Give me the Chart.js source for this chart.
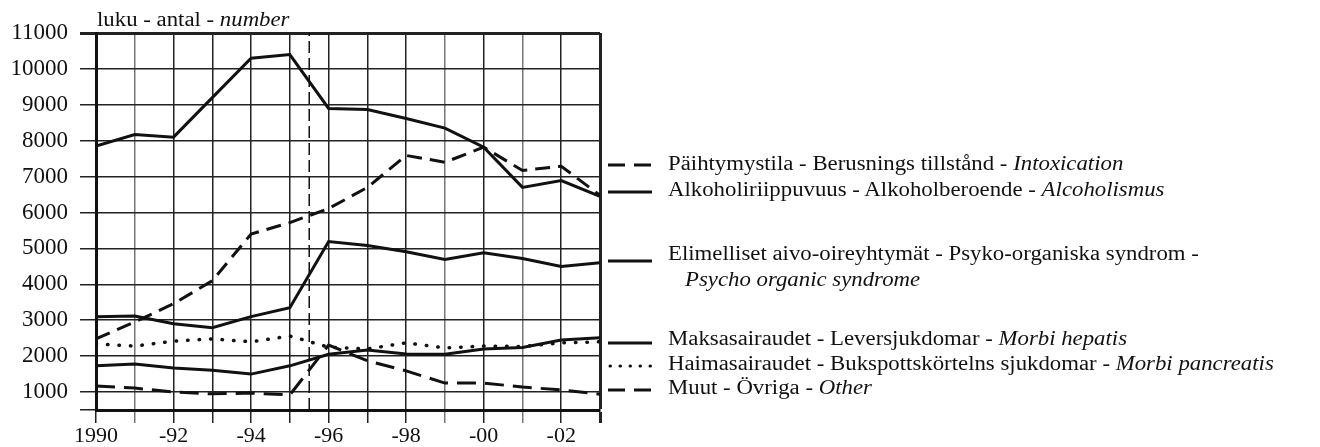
<!DOCTYPE html>
<html>
<head>
<meta charset="utf-8">
<script src="https://cdn.jsdelivr.net/npm/chart.js@4.4.1/dist/chart.umd.min.js"></script>
<style>
  body { margin: 0; background: #fff; }
  #wrap { position: relative; width: 1320px; height: 447px; overflow: hidden; }
  #chart { position: absolute; left: 0; top: 0; }
  .t {
    position: absolute; white-space: nowrap; color: #111;
    font-family: "Liberation Serif", "Times New Roman", serif;
    font-size: 20px; line-height: 20px;
    transform: scaleX(1.14); transform-origin: 0 0;
  }
  .s { position: absolute; left: 608px; width: 44px; height: 6px; overflow: visible; }
</style>
</head>
<body>
<div id="wrap">
  <canvas id="chart" width="1320" height="447"></canvas>

  <div class="t" style="left:97px;top:9px;">luku - antal - <i>number</i></div>

  <svg class="s" style="top:162px"><line x1="0" y1="3" x2="44" y2="3" stroke="#111" stroke-width="3" stroke-dasharray="17,9"/></svg>
  <div class="t" style="left:668px;top:153px;">Päihtymystila - Berusnings tillstånd - <i>Intoxication</i></div>

  <svg class="s" style="top:189px"><line x1="0" y1="3" x2="44" y2="3" stroke="#111" stroke-width="3"/></svg>
  <div class="t" style="left:668px;top:179px;">Alkoholiriippuvuus - Alkoholberoende - <i>Alcoholismus</i></div>

  <svg class="s" style="top:258px"><line x1="0" y1="3" x2="44" y2="3" stroke="#111" stroke-width="3"/></svg>
  <div class="t" style="left:668px;top:243px;">Elimelliset aivo-oireyhtymät - Psyko-organiska syndrom -</div>
  <div class="t" style="left:685px;top:269px;"><i>Psycho organic syndrome</i></div>

  <svg class="s" style="top:340px"><line x1="0" y1="3" x2="44" y2="3" stroke="#111" stroke-width="3"/></svg>
  <div class="t" style="left:668px;top:328px;">Maksasairaudet - Leversjukdomar - <i>Morbi hepatis</i></div>

  <svg class="s" style="top:363px"><line x1="2" y1="3" x2="44" y2="3" stroke="#111" stroke-width="3" stroke-linecap="round" stroke-dasharray="0.5,9.5"/></svg>
  <div class="t" style="left:668px;top:353px;">Haimasairaudet - Bukspottskörtelns sjukdomar - <i>Morbi pancreatis</i></div>

  <svg class="s" style="top:387px"><line x1="0" y1="3" x2="44" y2="3" stroke="#111" stroke-width="3" stroke-dasharray="17,9"/></svg>
  <div class="t" style="left:668px;top:377px;">Muut - Övriga - <i>Other</i></div>
</div>

<script>
const years = [1990, 1991, 1992, 1993, 1994, 1995, 1996, 1997, 1998, 1999, 2000, 2001, 2002, 2003];
const intoxication = [2480, 2950, 3460, 4100, 5400, 5720, 6110, 6700, 7590, 7400, 7820, 7170, 7290, 6480];
const alcoholism = [7850, 8170, 8100, 9200, 10300, 10400, 8900, 8870, 8620, 8350, 7820, 6700, 6890, 6450];
const psychoOrganic = [3100, 3120, 2900, 2790, 3100, 3350, 5190, 5080, 4910, 4690, 4880, 4720, 4500, 4600];
const liver = [1730, 1780, 1670, 1610, 1500, 1730, 2050, 2170, 2060, 2050, 2200, 2240, 2450, 2510];
const pancreas = [2340, 2280, 2420, 2480, 2400, 2560, 2250, 2200, 2370, 2230, 2280, 2270, 2370, 2400];
const other = [1170, 1110, 1000, 950, 970, 920, 2310, 1870, 1590, 1250, 1250, 1140, 1060, 940];

const yTicks = [500, 1000, 2000, 3000, 4000, 5000, 6000, 7000, 8000, 9000, 10000, 11000];
const xTickLabels = { 1990: '1990', 1992: '-92', 1994: '-94', 1996: '-96', 1998: '-98', 2000: '-00', 2002: '-02' };
const breakYear = 1995.5;

const ink = '#111';
Chart.defaults.font.family = '"Liberation Serif", "Times New Roman", serif';
Chart.defaults.color = ink;

function points(values) {
    return years.map((yr, i) => ({ x: yr, y: values[i] }));
}

function series(label, values, dash) {
    return {
        label: label,
        data: points(values),
        borderColor: ink,
        borderWidth: 3,
        borderDash: dash || [],
        pointRadius: 0,
        tension: 0,
        fill: false
    };
}

const ctx = document.getElementById('chart').getContext('2d');
const chart = new Chart(ctx, {
    type: 'line',
    data: {
        datasets: [
            series('Päihtymystila', intoxication, [15, 8]),
            series('Alkoholiriippuvuus', alcoholism),
            series('Elimelliset aivo-oireyhtymät', psychoOrganic),
            series('Maksasairaudet', liver),
            Object.assign(series('Haimasairaudet', pancreas, [0.5, 11]), { borderCapStyle: 'round', borderWidth: 3.5 }),
            series('Muut', other, [19, 9]),
            {
                label: 'break',
                data: [{ x: breakYear, y: yTicks[0] }, { x: breakYear, y: yTicks[yTicks.length - 1] }],
                borderColor: ink,
                borderWidth: 1.5,
                borderDash: [12, 5],
                pointRadius: 0
            }
        ]
    },
    options: {
        responsive: false,
        animation: false,
        layout: { padding: { top: 33, right: 720, bottom: 0, left: 0 } },
        plugins: { legend: { display: false }, tooltip: { enabled: false } },
        scales: {
            x: {
                type: 'linear',
                min: years[0],
                max: years[years.length - 1],
                afterBuildTicks: s => { s.ticks = years.map(v => ({ value: v })); },
                afterFit: s => { s.height = 37; },
                ticks: {
                    autoSkip: false,
                    maxRotation: 0,
                    padding: 0,
                    font: { size: 22 },
                    callback: v => xTickLabels[v] || ''
                },
                grid: {
                    color: c => (c.tick && [1991, 1999, 2001].includes(c.tick.value)) ? '#777' : '#222',
                    lineWidth: c => (c.tick && c.tick.value === years[years.length - 1]) ? 3 : 1.5,
                    tickLength: 13
                },
                border: { color: ink, width: 3 }
            },
            y: {
                min: yTicks[0],
                max: yTicks[yTicks.length - 1],
                afterBuildTicks: s => { s.ticks = yTicks.map(v => ({ value: v })); },
                afterFit: s => { s.width = 96; },
                ticks: {
                    padding: 12,
                    font: { size: 23 },
                    callback: v => v === yTicks[0] ? '' : String(v)
                },
                grid: {
                    color: '#222',
                    lineWidth: c => (c.tick && c.tick.value === yTicks[yTicks.length - 1]) ? 3 : 1.5,
                    tickLength: 16
                },
                border: { color: ink, width: 3 }
            }
        }
    }
});
</script>
</body>
</html>
